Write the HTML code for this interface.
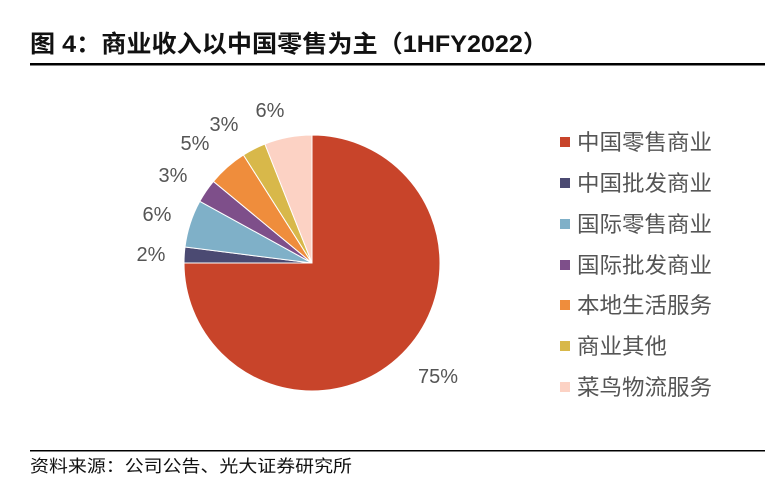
<!DOCTYPE html>
<html><head><meta charset="utf-8"><style>
body{margin:0;background:#fff;width:783px;height:486px;overflow:hidden;font-family:"Liberation Sans","Noto Sans CJK SC",sans-serif;}
</style></head><body>
<svg width="783" height="486" xmlns="http://www.w3.org/2000/svg" style="position:absolute;left:0;top:0">
<text x="30" y="52" font-size="24" font-weight="bold" fill="#111" textLength="518" lengthAdjust="spacingAndGlyphs">图 4：商业收入以中国零售为主（1HFY2022）</text>
<rect x="30" y="63" width="735" height="2.5" fill="#000"/>
<g stroke="#fff" stroke-width="1">
<path d="M312,263 L312,135 A128,128 0 1 1 184,263 Z" fill="#c8442a"/>
<path d="M312,263 L184,263 A128,128 0 0 1 185,247 Z" fill="#4b4a72"/>
<path d="M312,263 L185,247 A128,128 0 0 1 199.8,201.3 Z" fill="#7fb0c8"/>
<path d="M312,263 L199.8,201.3 A128,128 0 0 1 213.4,181.4 Z" fill="#7e4f8a"/>
<path d="M312,263 L213.4,181.4 A128,128 0 0 1 243.4,154.9 Z" fill="#ef8d3c"/>
<path d="M312,263 L243.4,154.9 A128,128 0 0 1 264.9,144 Z" fill="#d8b84a"/>
<path d="M312,263 L264.9,144 A128,128 0 0 1 312,135 Z" fill="#fcd2c4"/>
</g>
<g font-size="20" fill="#555" text-anchor="middle">
<text x="438" y="383">75%</text>
<text x="151" y="261">2%</text>
<text x="157" y="221">6%</text>
<text x="173" y="182">3%</text>
<text x="195" y="150">5%</text>
<text x="224" y="131">3%</text>
<text x="270" y="117">6%</text>
</g>
<g font-size="22" fill="#555">
<rect x="560" y="137" width="10" height="10" fill="#c8442a"/><text x="577" y="150" textLength="135" lengthAdjust="spacingAndGlyphs">中国零售商业</text>
<rect x="560" y="178" width="10" height="10" fill="#4b4a72"/><text x="577" y="191" textLength="135" lengthAdjust="spacingAndGlyphs">中国批发商业</text>
<rect x="560" y="219" width="10" height="10" fill="#7fb0c8"/><text x="577" y="232" textLength="135" lengthAdjust="spacingAndGlyphs">国际零售商业</text>
<rect x="560" y="260" width="10" height="10" fill="#7e4f8a"/><text x="577" y="273" textLength="135" lengthAdjust="spacingAndGlyphs">国际批发商业</text>
<rect x="560" y="300" width="10" height="10" fill="#ef8d3c"/><text x="577" y="313" textLength="135" lengthAdjust="spacingAndGlyphs">本地生活服务</text>
<rect x="560" y="341" width="10" height="10" fill="#d8b84a"/><text x="577" y="354" textLength="90" lengthAdjust="spacingAndGlyphs">商业其他</text>
<rect x="560" y="382" width="10" height="10" fill="#fcd2c4"/><text x="577" y="395" textLength="135" lengthAdjust="spacingAndGlyphs">菜鸟物流服务</text>
</g>
<rect x="30" y="450" width="735" height="1.5" fill="#000"/>
<text x="30" y="472" font-size="17" fill="#111" textLength="322" lengthAdjust="spacingAndGlyphs">资料来源：公司公告、光大证券研究所</text>
</svg>
</body></html>
